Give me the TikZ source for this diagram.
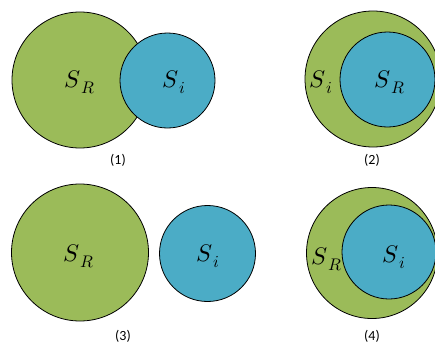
\documentclass[tikz,border=0pt]{standalone}
\usepackage{fontspec}
\usepackage{unicode-math}
\setmainfont{Carlito}
\setmathfont{Latin Modern Math}
\usepackage{tikz}
\usetikzlibrary{positioning}
\definecolor{ctGreen}{HTML}{9BBB59}
\definecolor{ctBlue}{HTML}{4BACC6}

\begin{document}
\begin{tikzpicture}[x=1pt,y=-1pt,every node/.style={inner sep=0pt},
  setR/.style={circle,draw=black,fill=ctGreen,line width=0.8pt},
  setI/.style={circle,draw=black,fill=ctBlue,line width=0.8pt},
  sname/.style={font=\fontsize{24}{28}\selectfont},
  caption/.style={font=\fontsize{14}{16}\selectfont}]
  \useasboundingbox (0,0) rectangle (435,345);
  % (1) overlapping
  \node[setR,minimum size=136pt] (r1) at (80,80) {};
  \node[setI,minimum size=95pt] (i1) at (167.5,80.5) {};
  \node[sname] (lr1) at (80,82) {$S_{\,R}$};
  \node[sname] (li1) at (174,82) {$S_{\,i}$};
  \node[caption] (c1) at (118,160) {(1)};
  % (2) S_R inside S_i
  \node[setR,minimum size=136pt] (r2) at (373,79) {};
  \node[setI,minimum size=95pt] (i2) at (387.5,79.5) {};
  \node[sname] (li2) at (321,82) {$S_{\,i}$};
  \node[sname] (lr2) at (390,82) {$S_{\,R}$};
  \node[caption] (c2) at (372,160) {(2)};
  % (3) disjoint
  \node[setR,minimum size=137pt] (r3) at (80,252.5) {};
  \node[setI,minimum size=96pt] (i3) at (207.5,253.5) {};
  \node[sname] (lr3) at (79,256) {$S_{\,R}$};
  \node[sname] (li3) at (208,256) {$S_{\,i}$};
  \node[caption] (c3) at (123,336) {(3)};
  % (4) S_i inside S_R
  \node[setR,minimum size=131pt] (r4) at (372,253) {};
  \node[setI,minimum size=94pt] (i4) at (389,252) {};
  \node[sname] (lr4) at (327,259) {$S_{\,R}$};
  \node[sname] (li4) at (394,257) {$S_{\,i}$};
  \node[caption] (c4) at (372,336) {(4)};
\end{tikzpicture}
\end{document}
